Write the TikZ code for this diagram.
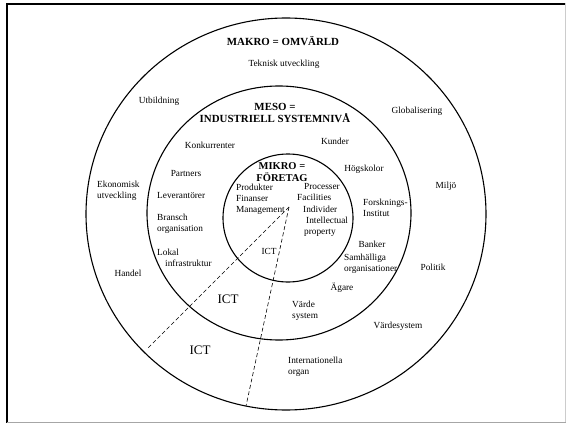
\documentclass[tikz,border=0pt]{standalone}
\usepackage{fontspec}
\setmainfont{Liberation Serif}
\begin{document}
\begin{tikzpicture}[x=1pt,y=-1pt,
  ring/.style={draw=black,line width=1.1pt},
  lbl/.style={inner sep=0pt,font=\fontsize{9.3}{11.2}\selectfont},
  lblL/.style={lbl,anchor=west,align=left},
  ttl/.style={inner sep=0pt,align=center,font=\fontsize{10.9}{12}\selectfont\bfseries},
  bigict/.style={inner sep=0pt,font=\fontsize{13}{15}\selectfont},
  ictline/.style={line width=0.6pt,dash pattern=on 4pt off 2.5pt}]
  \useasboundingbox (0,0) rectangle (566,423);

  % page frame
  \draw[line width=2pt] (6,3.5) -- (566,3.5);
  \draw[line width=2pt] (7,3) -- (7,423);
  \draw[gray!70,line width=1pt] (7,422) -- (566,422);
  \draw[gray!40,line width=0.8pt] (565.5,3) -- (565.5,422);

  % the three levels
  \draw[ring] (286,214) ellipse [x radius=200, y radius=196];
  \draw[ring] (279,213) ellipse [x radius=132, y radius=127];
  \draw[ring] (288,218) ellipse [x radius=65, y radius=64];

  % ICT sector
  \coordinate (apex) at (289,207);
  \coordinate (ictA) at (147,349);
  \coordinate (ictB) at (246,406);
  \draw[ictline] (apex) -- (ictA);
  \draw[ictline] (apex) -- (ictB);

  % titles
  \node[ttl] (makro) at (283,41) {MAKRO = OMVÄRLD};
  \node[ttl] (meso) at (275,113) {MESO =\\INDUSTRIELL SYSTEMNIVÅ};
  \node[ttl,font=\fontsize{10.5}{11.5}\selectfont\bfseries] (mikro) at (282,172) {MIKRO =\\FÖRETAG};

  % macro level
  \node[lbl] (teknisk) at (284,64) {Teknisk utveckling};
  \node[lbl] (utbild) at (159,101) {Utbildning};
  \node[lbl] (global) at (417,111) {Globalisering};
  \node[lblL] (ekonom) at (97,191) {Ekonomisk\\utveckling};
  \node[lbl] (miljo) at (446,186) {Miljö};
  \node[lbl] (handel) at (128,273) {Handel};
  \node[lbl] (politik) at (433,267) {Politik};
  \node[lbl] (vsys) at (398,326) {Värdesystem};
  \node[lblL] (intorg) at (288,366.5) {Internationella\\organ};

  % meso level
  \node[lbl] (konk) at (210,145) {Konkurrenter};
  \node[lbl] (kunder) at (335,141) {Kunder};
  \node[lbl] (partners) at (186,174) {Partners};
  \node[lbl] (hogsk) at (364,169) {Högskolor};
  \node[lblL] (lever) at (157,195) {Leverantörer};
  \node[lblL] (forsk) at (363,207.5) {Forsknings-\\Institut};
  \node[lblL] (bransch) at (157,223.5) {Bransch\\organisation};
  \node[lbl] (banker) at (372,244) {Banker};
  \node[lblL] (lokal) at (157,257.5) {Lokal\\\hspace*{8pt}infrastruktur};
  \node[lblL] (samh) at (344,264) {Samhälliga\\organisationer};
  \node[lbl] (agare) at (342,288) {Ägare};
  \node[lblL] (varde) at (292,310.5) {Värde\\system};

  % micro level
  \node[lblL] (prod) at (236,199) {Produkter\\Finanser\\Management};
  \node[lblL] (proc) at (297,210) {\hspace*{7pt}Processer\\Facilities\\\hspace*{6pt}Individer\\\hspace*{9pt}Intellectual\\\hspace*{7pt}property};
  \node[lbl] (ictm) at (269,251) {ICT};

  % ICT in the outer rings
  \node[bigict] (ictmeso) at (228,299) {ICT};
  \node[bigict] (ictmakro) at (200,350) {ICT};
\end{tikzpicture}
\end{document}
